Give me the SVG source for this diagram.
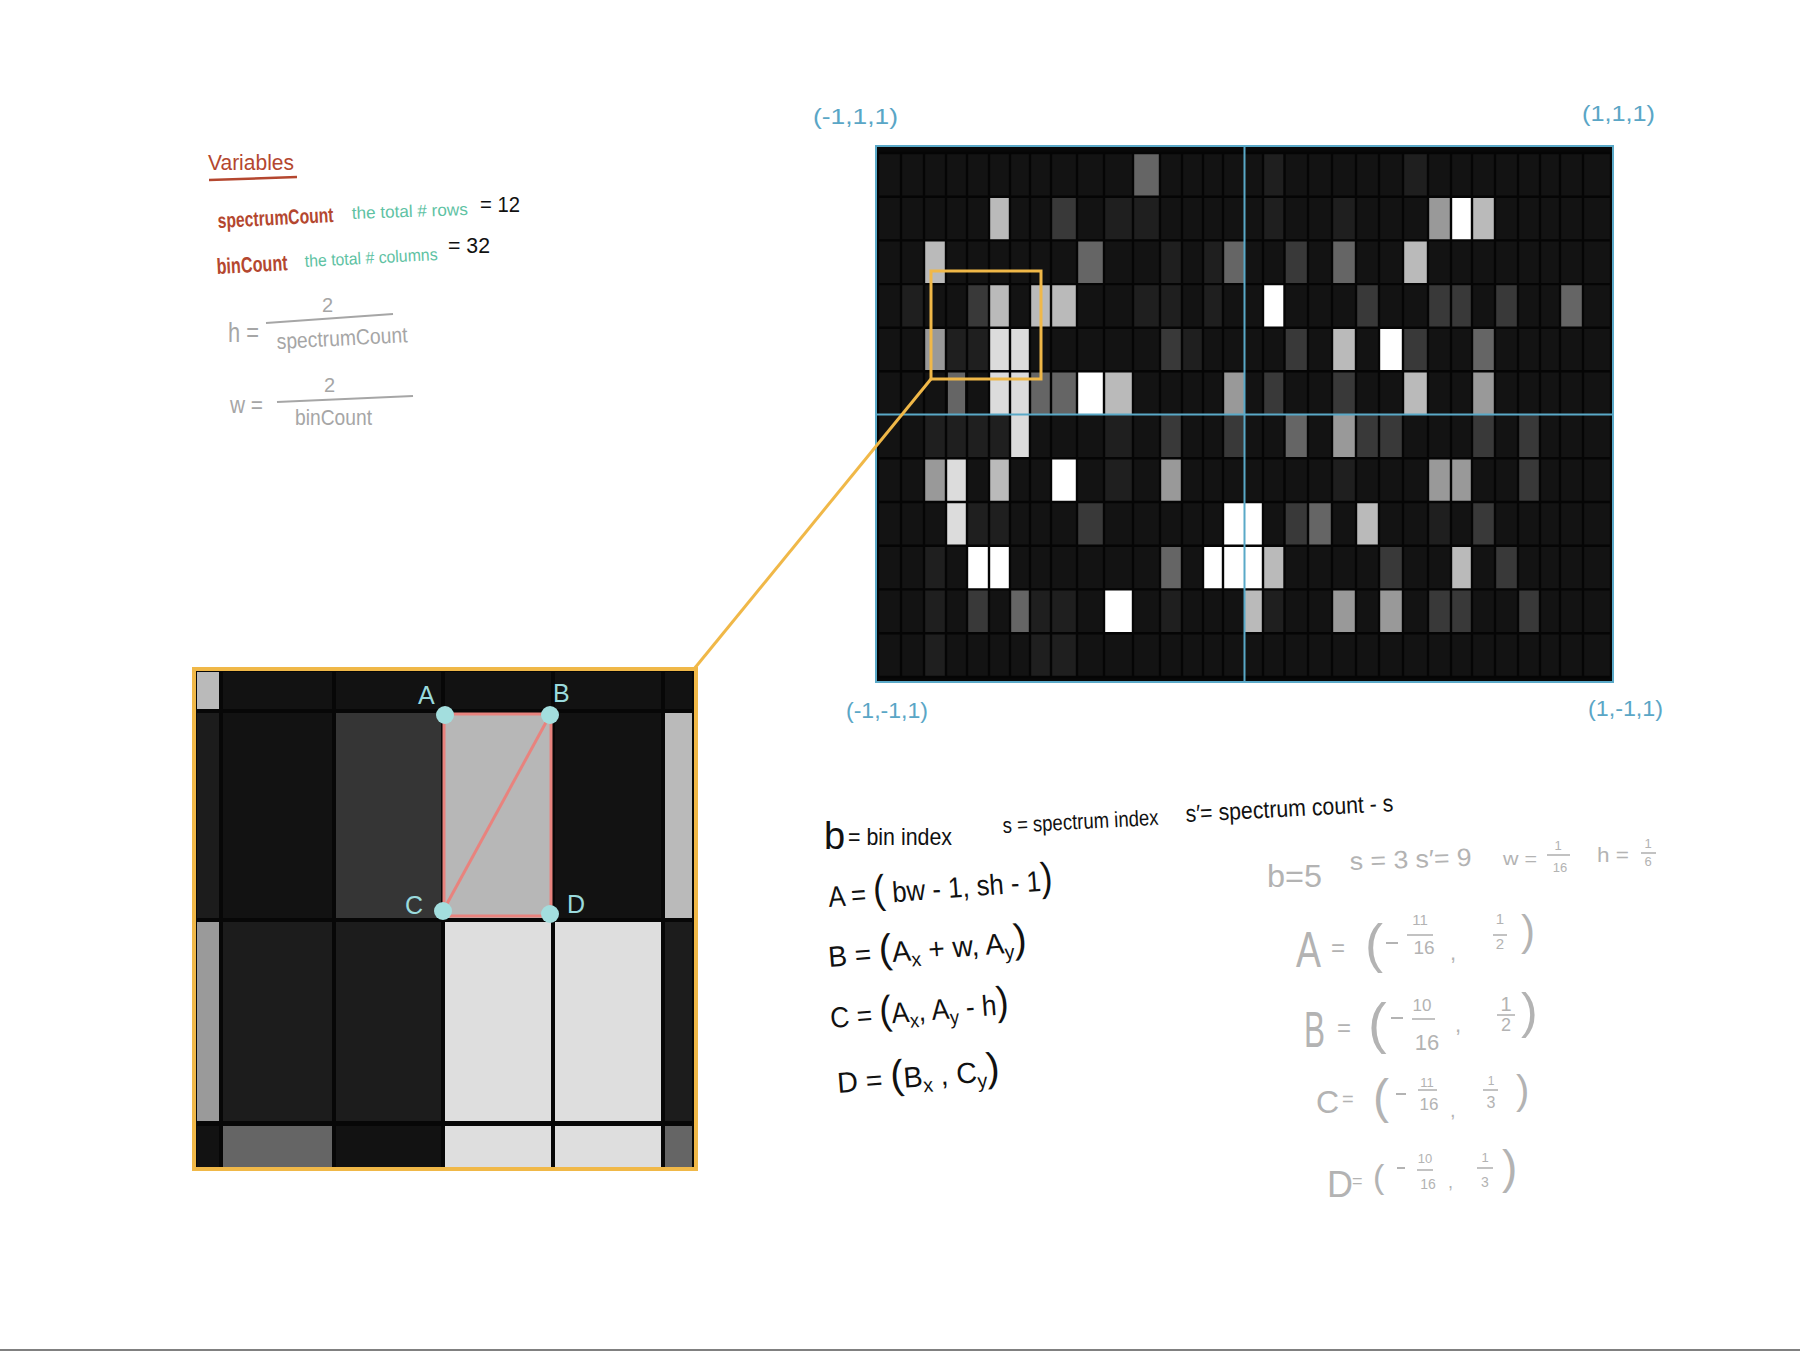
<svg xmlns="http://www.w3.org/2000/svg" width="1800" height="1351" viewBox="0 0 1800 1351">
<style>
text{font-family:"Liberation Sans","Open Sans",Arial,sans-serif}
.red{fill:#b4472f}
.teal{fill:#5ec2a3}
.blk{fill:#111}
.gry{fill:#a6a6a6}
.lg{fill:#b3b3b3}
.blue{fill:#5aa6c6}
.cy{fill:#9adadd}
.d{fill:#1f1f1f}.g3{fill:#393939}.g6{fill:#656565}.g9{fill:#999}.gb{fill:#bababa}.gd{fill:#dcdcdc}.w{fill:#fff}
.fl{stroke:#b3b3b3;stroke-width:1.6;fill:none}
.mn{stroke:#b3b3b3;stroke-width:2;fill:none}
</style>
<rect width="1800" height="1351" fill="#fff"/>
<rect x="0" y="1349" width="1800" height="2" fill="#808080"/>

<g id="variables-panel">
<text class="red" x="208" y="170" font-size="22" textLength="86" lengthAdjust="spacingAndGlyphs">Variables</text>
<path d="M209 180 L297 177" stroke="#b4472f" stroke-width="2.5" fill="none"/>
<text class="red" x="218" y="228" font-size="21" font-weight="bold" textLength="116" lengthAdjust="spacingAndGlyphs" transform="rotate(-3 218 228)">spectrumCount</text>
<text class="teal" x="352" y="219" font-size="17" textLength="116" lengthAdjust="spacingAndGlyphs" transform="rotate(-2 352 219)">the total # rows</text>
<text class="blk" x="480" y="212" font-size="22" textLength="40" lengthAdjust="spacingAndGlyphs">= 12</text>
<text class="red" x="217" y="274" font-size="22" font-weight="bold" textLength="71" lengthAdjust="spacingAndGlyphs" transform="rotate(-3 217 274)">binCount</text>
<text class="teal" x="305" y="267" font-size="17" textLength="133" lengthAdjust="spacingAndGlyphs" transform="rotate(-3 305 267)">the total # columns</text>
<text class="blk" x="448" y="253" font-size="22" textLength="42" lengthAdjust="spacingAndGlyphs">= 32</text>
<text class="gry" x="228" y="342" font-size="28" textLength="31" lengthAdjust="spacingAndGlyphs">h =</text>
<text class="gry" x="322" y="312" font-size="20">2</text>
<path d="M266 323 L393 314" stroke="#a6a6a6" stroke-width="2" fill="none"/>
<text class="gry" x="277" y="349" font-size="22" textLength="131" lengthAdjust="spacingAndGlyphs" transform="rotate(-3 277 349)">spectrumCount</text>
<text class="gry" x="230" y="413" font-size="24" textLength="33" lengthAdjust="spacingAndGlyphs">w =</text>
<text class="gry" x="324" y="392" font-size="20">2</text>
<path d="M277 402 L413 396" stroke="#a6a6a6" stroke-width="2" fill="none"/>
<text class="gry" x="295" y="425" font-size="22" textLength="77" lengthAdjust="spacingAndGlyphs">binCount</text>
</g>

<g id="main-grid">
<rect x="876" y="146" width="737" height="536" fill="#080808"/>
<rect x="878" y="153" width="733" height="524" fill="#131313"/>
<rect class="g6" x="1133" y="153" width="27" height="43.7"/>
<rect class="d" x="1263" y="153" width="21.5" height="43.7"/>
<rect class="d" x="1403" y="153" width="25" height="43.7"/>
<rect class="gb" x="989" y="196.7" width="21" height="43.7"/>
<rect class="g3" x="1051" y="196.7" width="26" height="43.7"/>
<rect class="d" x="1104" y="196.7" width="29" height="43.7"/>
<rect class="d" x="1133" y="196.7" width="27" height="43.7"/>
<rect class="d" x="1263" y="196.7" width="21.5" height="43.7"/>
<rect class="d" x="1332" y="196.7" width="24" height="43.7"/>
<rect class="g9" x="1428" y="196.7" width="23" height="43.7"/>
<rect class="w" x="1451" y="196.7" width="21" height="43.7"/>
<rect class="gb" x="1472" y="196.7" width="23" height="43.7"/>
<rect class="gb" x="924" y="240.4" width="22" height="43.7"/>
<rect class="g6" x="1077" y="240.4" width="27" height="43.7"/>
<rect class="d" x="1160" y="240.4" width="22" height="43.7"/>
<rect class="d" x="1203" y="240.4" width="20" height="43.7"/>
<rect class="g6" x="1223" y="240.4" width="21.5" height="43.7"/>
<rect class="g3" x="1284.5" y="240.4" width="23.5" height="43.7"/>
<rect class="g6" x="1332" y="240.4" width="24" height="43.7"/>
<rect class="gb" x="1403" y="240.4" width="25" height="43.7"/>
<rect class="d" x="901" y="284.1" width="23" height="43.7"/>
<rect class="g3" x="967" y="284.1" width="22" height="43.7"/>
<rect class="gb" x="989" y="284.1" width="21" height="43.7"/>
<rect class="gb" x="1030" y="284.1" width="21" height="43.7"/>
<rect class="gb" x="1051" y="284.1" width="26" height="43.7"/>
<rect class="d" x="1133" y="284.1" width="27" height="43.7"/>
<rect class="d" x="1160" y="284.1" width="22" height="43.7"/>
<rect class="d" x="1203" y="284.1" width="20" height="43.7"/>
<rect class="w" x="1263" y="284.1" width="21.5" height="43.7"/>
<rect class="g3" x="1356" y="284.1" width="23" height="43.7"/>
<rect class="g3" x="1428" y="284.1" width="23" height="43.7"/>
<rect class="g3" x="1451" y="284.1" width="21" height="43.7"/>
<rect class="g3" x="1495" y="284.1" width="23" height="43.7"/>
<rect class="g6" x="1560" y="284.1" width="23" height="43.7"/>
<rect class="g9" x="924" y="327.8" width="22" height="43.4"/>
<rect class="d" x="946" y="327.8" width="21" height="43.4"/>
<rect class="d" x="967" y="327.8" width="22" height="43.4"/>
<rect class="gd" x="989" y="327.8" width="21" height="43.4"/>
<rect class="gd" x="1010" y="327.8" width="20" height="43.4"/>
<rect class="g3" x="1160" y="327.8" width="22" height="43.4"/>
<rect class="d" x="1182" y="327.8" width="21" height="43.4"/>
<rect class="g3" x="1284.5" y="327.8" width="23.5" height="43.4"/>
<rect class="gb" x="1332" y="327.8" width="24" height="43.4"/>
<rect class="w" x="1379" y="327.8" width="24" height="43.4"/>
<rect class="g3" x="1403" y="327.8" width="25" height="43.4"/>
<rect class="g6" x="1472" y="327.8" width="23" height="43.4"/>
<rect class="g6" x="948" y="371.2" width="17" height="43.3"/>
<rect class="gd" x="989" y="371.2" width="21" height="43.3"/>
<rect class="gd" x="1010" y="371.2" width="20" height="43.3"/>
<rect class="g6" x="1030" y="371.2" width="21" height="43.3"/>
<rect class="g6" x="1051" y="371.2" width="26" height="43.3"/>
<rect class="w" x="1077" y="371.2" width="27" height="43.3"/>
<rect class="gb" x="1104" y="371.2" width="29" height="43.3"/>
<rect class="g9" x="1223" y="371.2" width="21.5" height="43.3"/>
<rect class="g3" x="1263" y="371.2" width="21.5" height="43.3"/>
<rect class="g3" x="1332" y="371.2" width="24" height="43.3"/>
<rect class="gb" x="1403" y="371.2" width="25" height="43.3"/>
<rect class="g9" x="1472" y="371.2" width="23" height="43.3"/>
<rect class="d" x="924" y="414.5" width="22" height="43.8"/>
<rect class="d" x="946" y="414.5" width="21" height="43.8"/>
<rect class="d" x="967" y="414.5" width="22" height="43.8"/>
<rect class="d" x="989" y="414.5" width="21" height="43.8"/>
<rect class="gd" x="1010" y="414.5" width="20" height="43.8"/>
<rect class="d" x="1104" y="414.5" width="29" height="43.8"/>
<rect class="g3" x="1160" y="414.5" width="22" height="43.8"/>
<rect class="g3" x="1223" y="414.5" width="21.5" height="43.8"/>
<rect class="g6" x="1284.5" y="414.5" width="23.5" height="43.8"/>
<rect class="g9" x="1332" y="414.5" width="24" height="43.8"/>
<rect class="g3" x="1356" y="414.5" width="23" height="43.8"/>
<rect class="g3" x="1379" y="414.5" width="24" height="43.8"/>
<rect class="g3" x="1472" y="414.5" width="23" height="43.8"/>
<rect class="g3" x="1518" y="414.5" width="22" height="43.8"/>
<rect class="g9" x="924" y="458.3" width="22" height="43.7"/>
<rect class="gd" x="946" y="458.3" width="21" height="43.7"/>
<rect class="gb" x="989" y="458.3" width="21" height="43.7"/>
<rect class="w" x="1051" y="458.3" width="26" height="43.7"/>
<rect class="d" x="1104" y="458.3" width="29" height="43.7"/>
<rect class="g9" x="1160" y="458.3" width="22" height="43.7"/>
<rect class="d" x="1332" y="458.3" width="24" height="43.7"/>
<rect class="g9" x="1428" y="458.3" width="23" height="43.7"/>
<rect class="g9" x="1451" y="458.3" width="21" height="43.7"/>
<rect class="g3" x="1518" y="458.3" width="22" height="43.7"/>
<rect class="gd" x="946" y="502" width="21" height="43.7"/>
<rect class="d" x="967" y="502" width="22" height="43.7"/>
<rect class="d" x="989" y="502" width="21" height="43.7"/>
<rect class="g3" x="1077" y="502" width="27" height="43.7"/>
<rect class="w" x="1223" y="502" width="21.5" height="43.7"/>
<rect class="w" x="1244.5" y="502" width="18.5" height="43.7"/>
<rect class="g3" x="1284.5" y="502" width="23.5" height="43.7"/>
<rect class="g6" x="1308" y="502" width="24" height="43.7"/>
<rect class="gb" x="1356" y="502" width="23" height="43.7"/>
<rect class="d" x="1428" y="502" width="23" height="43.7"/>
<rect class="g3" x="1472" y="502" width="23" height="43.7"/>
<rect class="d" x="924" y="545.7" width="22" height="43.7"/>
<rect class="w" x="967" y="545.7" width="22" height="43.7"/>
<rect class="w" x="989" y="545.7" width="21" height="43.7"/>
<rect class="g6" x="1160" y="545.7" width="22" height="43.7"/>
<rect class="w" x="1203" y="545.7" width="20" height="43.7"/>
<rect class="w" x="1223" y="545.7" width="21.5" height="43.7"/>
<rect class="w" x="1244.5" y="545.7" width="18.5" height="43.7"/>
<rect class="gb" x="1263" y="545.7" width="21.5" height="43.7"/>
<rect class="g3" x="1379" y="545.7" width="24" height="43.7"/>
<rect class="gb" x="1451" y="545.7" width="21" height="43.7"/>
<rect class="g3" x="1495" y="545.7" width="23" height="43.7"/>
<rect class="d" x="924" y="589.4" width="22" height="43.8"/>
<rect class="g3" x="967" y="589.4" width="22" height="43.8"/>
<rect class="g6" x="1010" y="589.4" width="20" height="43.8"/>
<rect class="d" x="1030" y="589.4" width="21" height="43.8"/>
<rect class="d" x="1051" y="589.4" width="26" height="43.8"/>
<rect class="w" x="1104" y="589.4" width="29" height="43.8"/>
<rect class="d" x="1160" y="589.4" width="22" height="43.8"/>
<rect class="gb" x="1244.5" y="589.4" width="18.5" height="43.8"/>
<rect class="d" x="1263" y="589.4" width="21.5" height="43.8"/>
<rect class="g9" x="1332" y="589.4" width="24" height="43.8"/>
<rect class="g9" x="1379" y="589.4" width="24" height="43.8"/>
<rect class="g3" x="1428" y="589.4" width="23" height="43.8"/>
<rect class="g3" x="1451" y="589.4" width="21" height="43.8"/>
<rect class="g3" x="1518" y="589.4" width="22" height="43.8"/>
<rect class="d" x="924" y="633.2" width="22" height="43.8"/>
<rect class="d" x="1030" y="633.2" width="21" height="43.8"/>
<rect class="d" x="1051" y="633.2" width="26" height="43.8"/>
<path stroke="#050505" stroke-width="2.4" fill="none" d="M878 153V677M901 153V677M924 153V677M946 153V677M967 153V677M989 153V677M1010 153V677M1030 153V677M1051 153V677M1077 153V677M1104 153V677M1133 153V677M1160 153V677M1182 153V677M1203 153V677M1223 153V677M1263 153V677M1284.5 153V677M1308 153V677M1332 153V677M1356 153V677M1379 153V677M1403 153V677M1428 153V677M1451 153V677M1472 153V677M1495 153V677M1518 153V677M1540 153V677M1560 153V677M1583 153V677M1611 153V677M878 153H1611M878 196.7H1611M878 240.4H1611M878 284.1H1611M878 327.8H1611M878 371.2H1611M878 458.3H1611M878 502H1611M878 545.7H1611M878 589.4H1611M878 633.2H1611M878 677H1611"/>
<path stroke="#5aa9c8" stroke-width="2" fill="none" d="M1244.5 146V682M876 414.5H1613"/>
<rect x="876" y="146" width="737" height="536" fill="none" stroke="#5aa9c8" stroke-width="2"/>
<rect x="931" y="271" width="110" height="108" fill="none" stroke="#f0b848" stroke-width="3"/>
</g>

<g id="corner-labels">
<text class="blue" x="813" y="124" font-size="22" textLength="85" lengthAdjust="spacingAndGlyphs">(-1,1,1)</text>
<text class="blue" x="1582" y="121" font-size="22" textLength="73" lengthAdjust="spacingAndGlyphs">(1,1,1)</text>
<text class="blue" x="846" y="718" font-size="22" textLength="82" lengthAdjust="spacingAndGlyphs">(-1,-1,1)</text>
<text class="blue" x="1588" y="716" font-size="22" textLength="75" lengthAdjust="spacingAndGlyphs">(1,-1,1)</text>
</g>

<g id="connectors">
<path d="M931 379 L694 669" stroke="#f0b848" stroke-width="3" fill="none"/>
</g>

<g id="inset">
<rect x="194" y="669" width="502" height="500" fill="#070707"/>
<rect x="197" y="672" width="22" height="37" fill="#bababa"/>
<rect x="223" y="672" width="109" height="37" fill="#121212"/>
<rect x="336" y="672" width="105" height="37" fill="#121212"/>
<rect x="445" y="672" width="106" height="37" fill="#121212"/>
<rect x="555" y="672" width="106" height="37" fill="#121212"/>
<rect x="665" y="672" width="27" height="37" fill="#121212"/>
<rect x="197" y="713" width="22" height="205" fill="#1c1c1c"/>
<rect x="223" y="713" width="109" height="205" fill="#121212"/>
<rect x="336" y="713" width="105" height="205" fill="#353535"/>
<rect x="445" y="713" width="106" height="205" fill="#b7b7b7"/>
<rect x="555" y="713" width="106" height="205" fill="#121212"/>
<rect x="665" y="713" width="27" height="205" fill="#bababa"/>
<rect x="197" y="922" width="22" height="199" fill="#9a9a9a"/>
<rect x="223" y="922" width="109" height="199" fill="#1c1c1c"/>
<rect x="336" y="922" width="105" height="199" fill="#1c1c1c"/>
<rect x="445" y="922" width="106" height="199" fill="#dedede"/>
<rect x="555" y="922" width="106" height="199" fill="#dedede"/>
<rect x="665" y="922" width="27" height="199" fill="#1c1c1c"/>
<rect x="197" y="1126" width="22" height="41" fill="#121212"/>
<rect x="223" y="1126" width="109" height="41" fill="#656565"/>
<rect x="336" y="1126" width="105" height="41" fill="#121212"/>
<rect x="445" y="1126" width="106" height="41" fill="#dedede"/>
<rect x="555" y="1126" width="106" height="41" fill="#dedede"/>
<rect x="665" y="1126" width="27" height="41" fill="#656565"/>
<rect x="194" y="669" width="502" height="500" fill="none" stroke="#f0b848" stroke-width="4"/>
<rect x="444" y="714" width="107" height="202" fill="none" stroke="#e8837e" stroke-width="3"/>
<path d="M550 715 L443 911" stroke="#e8837e" stroke-width="3" fill="none"/>
<circle cx="445" cy="715" r="9" fill="#a3dede"/>
<circle cx="550" cy="715" r="9" fill="#a3dede"/>
<circle cx="443" cy="911" r="9" fill="#a3dede"/>
<circle cx="550" cy="914" r="9" fill="#a3dede"/>
<text class="cy" x="418" y="704" font-size="25">A</text>
<text class="cy" x="553" y="702" font-size="25">B</text>
<text class="cy" x="405" y="914" font-size="25">C</text>
<text class="cy" x="567" y="913" font-size="25">D</text>
</g>

<g id="formulas">
<text class="blk" x="824" y="849" font-size="38">b</text>
<text class="blk" x="848" y="845" font-size="24" textLength="104" lengthAdjust="spacingAndGlyphs">= bin index</text>
<text class="blk" x="1003" y="833" font-size="22" textLength="156" lengthAdjust="spacingAndGlyphs" transform="rotate(-3 1003 833)">s = spectrum index</text>
<text class="blk" x="1186" y="822" font-size="24" textLength="208" lengthAdjust="spacingAndGlyphs" transform="rotate(-3 1186 822)">s′= spectrum count - s</text>
<text class="blk" x="829" y="907" font-size="29" textLength="225" lengthAdjust="spacingAndGlyphs" transform="rotate(-4.3 829 907)">A = <tspan font-size="40">(</tspan> bw - 1, sh - 1<tspan font-size="40">)</tspan></text>
<text class="blk" x="829" y="967" font-size="29" textLength="199" lengthAdjust="spacingAndGlyphs" transform="rotate(-4.5 829 967)">B = <tspan font-size="40">(</tspan>A<tspan font-size="20" dy="6">x</tspan><tspan dy="-6"> + w, A</tspan><tspan font-size="20" dy="6">y</tspan><tspan font-size="40" dy="-6">)</tspan></text>
<text class="blk" x="831" y="1028" font-size="29" textLength="179" lengthAdjust="spacingAndGlyphs" transform="rotate(-4.5 831 1028)">C = <tspan font-size="40">(</tspan>A<tspan font-size="20" dy="6">x</tspan><tspan dy="-6">, A</tspan><tspan font-size="20" dy="6">y</tspan><tspan dy="-6"> - h</tspan><tspan font-size="40">)</tspan></text>
<text class="blk" x="838" y="1093" font-size="29" textLength="163" lengthAdjust="spacingAndGlyphs" transform="rotate(-4.5 838 1093)">D = <tspan font-size="40">(</tspan>B<tspan font-size="20" dy="6">x</tspan><tspan dy="-6"> , C</tspan><tspan font-size="20" dy="6">y</tspan><tspan font-size="40" dy="-6">)</tspan></text>
</g>

<g id="example-values">
<text class="lg" x="1267" y="887" font-size="32" textLength="55" lengthAdjust="spacingAndGlyphs">b=5</text>
<text class="lg" x="1350" y="870" font-size="25" textLength="122" lengthAdjust="spacingAndGlyphs" transform="rotate(-2 1350 870)">s = 3  s′= 9</text>
<text class="lg" x="1503" y="865" font-size="18" textLength="34" lengthAdjust="spacingAndGlyphs">w =</text>
<text class="lg" x="1558" y="850" font-size="13" text-anchor="middle">1</text>
<path class="fl" d="M1547 855 H1570"/>
<text class="lg" x="1560" y="872" font-size="13" text-anchor="middle">16</text>
<text class="lg" x="1597" y="862" font-size="20" textLength="32" lengthAdjust="spacingAndGlyphs">h =</text>
<text class="lg" x="1648" y="848" font-size="13" text-anchor="middle">1</text>
<path class="fl" d="M1641 853 H1656"/>
<text class="lg" x="1648" y="866" font-size="13" text-anchor="middle">6</text>

<text class="lg" x="1296" y="967" font-size="50" textLength="25" lengthAdjust="spacingAndGlyphs">A</text>
<text class="lg" x="1331" y="956" font-size="24">=</text>
<text class="lg" x="1365" y="962" font-size="54">(</text>
<path class="mn" d="M1386 943 H1398"/>
<text class="lg" x="1420" y="925" font-size="15" text-anchor="middle">11</text>
<path class="fl" d="M1407 935 H1433"/>
<text class="lg" x="1424" y="954" font-size="19" text-anchor="middle">16</text>
<text class="lg" x="1450" y="960" font-size="22">,</text>
<text class="lg" x="1500" y="924" font-size="15" text-anchor="middle">1</text>
<path class="fl" d="M1493 935 H1507"/>
<text class="lg" x="1500" y="949" font-size="15" text-anchor="middle">2</text>
<text class="lg" x="1521" y="945" font-size="42">)</text>

<text class="lg" x="1304" y="1047" font-size="50" textLength="21" lengthAdjust="spacingAndGlyphs">B</text>
<text class="lg" x="1337" y="1036" font-size="24">=</text>
<text class="lg" x="1368" y="1042" font-size="56">(</text>
<path class="mn" d="M1391 1018 H1403"/>
<text class="lg" x="1422" y="1011" font-size="17" text-anchor="middle">10</text>
<path class="fl" d="M1412 1019 H1435"/>
<text class="lg" x="1427" y="1050" font-size="22" text-anchor="middle">16</text>
<text class="lg" x="1455" y="1032" font-size="22">,</text>
<text class="lg" x="1506" y="1011" font-size="20" text-anchor="middle">1</text>
<path class="fl" d="M1497 1015 H1515"/>
<text class="lg" x="1506" y="1031" font-size="18" text-anchor="middle">2</text>
<text class="lg" x="1521" y="1028" font-size="50">)</text>

<text class="lg" x="1316" y="1113" font-size="32">C</text>
<text class="lg" x="1342" y="1106" font-size="20">=</text>
<text class="lg" x="1373" y="1113" font-size="48">(</text>
<path class="mn" d="M1396 1094 H1406"/>
<text class="lg" x="1427" y="1087" font-size="13" text-anchor="middle">11</text>
<path class="fl" d="M1418 1090 H1437"/>
<text class="lg" x="1429" y="1110" font-size="17" text-anchor="middle">16</text>
<text class="lg" x="1450" y="1117" font-size="20">,</text>
<text class="lg" x="1491" y="1085" font-size="12" text-anchor="middle">1</text>
<path class="fl" d="M1483 1090 H1498"/>
<text class="lg" x="1491" y="1108" font-size="16" text-anchor="middle">3</text>
<text class="lg" x="1516" y="1104" font-size="40">)</text>

<text class="lg" x="1327" y="1197" font-size="36">D</text>
<text class="lg" x="1352" y="1187" font-size="18">=</text>
<text class="lg" x="1373" y="1188" font-size="34">(</text>
<path class="mn" d="M1397 1168 H1405"/>
<text class="lg" x="1425" y="1163" font-size="13" text-anchor="middle">10</text>
<path class="fl" d="M1417 1170 H1433"/>
<text class="lg" x="1428" y="1189" font-size="14" text-anchor="middle">16</text>
<text class="lg" x="1448" y="1188" font-size="18">,</text>
<text class="lg" x="1485" y="1162" font-size="13" text-anchor="middle">1</text>
<path class="fl" d="M1477 1168 H1493"/>
<text class="lg" x="1485" y="1187" font-size="14" text-anchor="middle">3</text>
<text class="lg" x="1502" y="1183" font-size="46">)</text>
</g>
</svg>
